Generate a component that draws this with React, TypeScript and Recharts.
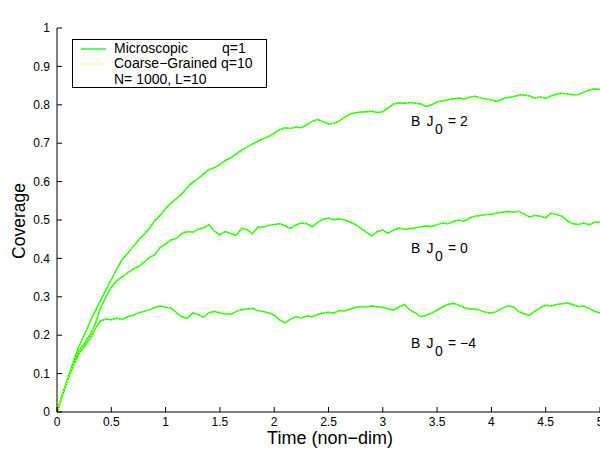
import { LineChart, Line, XAxis, YAxis, Legend, ReferenceDot } from "recharts";

// time grid (non-dim)
const times = [
  0, 0.05, 0.1, 0.15, 0.2, 0.25, 0.3, 0.35, 0.4, 0.45,
  0.5, 0.55, 0.6, 0.65, 0.7, 0.75, 0.8, 0.85, 0.9, 0.95,
  1, 1.05, 1.1, 1.15, 1.2, 1.25, 1.3, 1.35, 1.4, 1.45,
  1.5, 1.55, 1.6, 1.65, 1.7, 1.75, 1.8, 1.85, 1.9, 1.95,
  2, 2.05, 2.1, 2.15, 2.2, 2.25, 2.3, 2.35, 2.4, 2.45,
  2.5, 2.55, 2.6, 2.65, 2.7, 2.75, 2.8, 2.85, 2.9, 2.95,
  3, 3.05, 3.1, 3.15, 3.2, 3.25, 3.3, 3.35, 3.4, 3.45,
  3.5, 3.55, 3.6, 3.65, 3.7, 3.75, 3.8, 3.85, 3.9, 3.95,
  4, 4.05, 4.1, 4.15, 4.2, 4.25, 4.3, 4.35, 4.4, 4.45,
  4.5, 4.55, 4.6, 4.65, 4.7, 4.75, 4.8, 4.85, 4.9, 4.95, 5,
];

// B J0 = 2
const micro2 = [
  0, 0.045, 0.088, 0.13, 0.17, 0.2, 0.232, 0.262, 0.29, 0.318,
  0.345, 0.372, 0.398, 0.413, 0.43, 0.447, 0.462, 0.478, 0.498, 0.512,
  0.53, 0.544, 0.556, 0.568, 0.585, 0.598, 0.608, 0.62, 0.632, 0.636,
  0.645, 0.655, 0.662, 0.672, 0.682, 0.69, 0.698, 0.705, 0.712, 0.718,
  0.726, 0.735, 0.74, 0.738, 0.742, 0.74, 0.748, 0.757, 0.762, 0.756,
  0.75, 0.752, 0.758, 0.768, 0.776, 0.779, 0.781, 0.782, 0.783, 0.78,
  0.782, 0.792, 0.802, 0.805, 0.804, 0.806, 0.804, 0.802, 0.796, 0.8,
  0.808, 0.81, 0.813, 0.816, 0.818, 0.815, 0.82, 0.822, 0.818, 0.815,
  0.813, 0.808, 0.815, 0.819, 0.821, 0.825, 0.826, 0.823, 0.818, 0.82,
  0.817, 0.823, 0.828, 0.83, 0.828, 0.826, 0.827, 0.833, 0.838, 0.842, 0.84,
];
const coarse2 = [
  0, 0.046, 0.087, 0.131, 0.169, 0.201, 0.233, 0.261, 0.291, 0.317,
  0.346, 0.371, 0.399, 0.412, 0.431, 0.446, 0.463, 0.477, 0.499, 0.511,
  0.531, 0.543, 0.557, 0.567, 0.586, 0.597, 0.609, 0.619, 0.633, 0.635,
  0.646, 0.654, 0.663, 0.671, 0.683, 0.689, 0.699, 0.704, 0.713, 0.717,
  0.727, 0.734, 0.741, 0.737, 0.743, 0.739, 0.749, 0.756, 0.763, 0.755,
  0.751, 0.751, 0.759, 0.767, 0.777, 0.778, 0.782, 0.781, 0.784, 0.779,
  0.783, 0.791, 0.803, 0.804, 0.805, 0.805, 0.805, 0.801, 0.797, 0.799,
  0.809, 0.809, 0.814, 0.815, 0.819, 0.814, 0.821, 0.821, 0.819, 0.814,
  0.814, 0.807, 0.816, 0.818, 0.822, 0.824, 0.827, 0.822, 0.819, 0.819,
  0.818, 0.822, 0.829, 0.829, 0.829, 0.825, 0.828, 0.832, 0.839, 0.841, 0.841,
];

// B J0 = 0
const micro0 = [
  0, 0.045, 0.087, 0.125, 0.16, 0.178, 0.2, 0.228, 0.27, 0.3,
  0.325, 0.342, 0.352, 0.362, 0.372, 0.378, 0.39, 0.402, 0.41, 0.428,
  0.438, 0.448, 0.452, 0.465, 0.47, 0.468, 0.476, 0.48, 0.488, 0.47,
  0.462, 0.47, 0.465, 0.46, 0.478, 0.475, 0.464, 0.482, 0.482, 0.486,
  0.488, 0.49, 0.485, 0.478, 0.487, 0.492, 0.49, 0.482, 0.494, 0.502,
  0.505, 0.501, 0.503, 0.5, 0.494, 0.488, 0.478, 0.468, 0.458, 0.47,
  0.474, 0.465, 0.474, 0.479, 0.475, 0.478, 0.48, 0.482, 0.485, 0.483,
  0.488, 0.492, 0.49, 0.496, 0.5, 0.497, 0.506, 0.51, 0.512, 0.514,
  0.515, 0.518, 0.52, 0.522, 0.52, 0.523, 0.516, 0.508, 0.512, 0.51,
  0.506, 0.518, 0.514, 0.51, 0.498, 0.49, 0.488, 0.492, 0.488, 0.494, 0.495,
];
const coarse0 = [
  0, 0.044, 0.088, 0.124, 0.161, 0.177, 0.201, 0.227, 0.271, 0.299,
  0.326, 0.341, 0.353, 0.361, 0.373, 0.377, 0.391, 0.401, 0.411, 0.427,
  0.439, 0.447, 0.453, 0.464, 0.471, 0.467, 0.477, 0.479, 0.489, 0.469,
  0.463, 0.469, 0.466, 0.459, 0.479, 0.474, 0.465, 0.481, 0.483, 0.485,
  0.489, 0.489, 0.486, 0.477, 0.488, 0.491, 0.491, 0.481, 0.495, 0.501,
  0.506, 0.5, 0.504, 0.499, 0.495, 0.487, 0.479, 0.467, 0.459, 0.469,
  0.475, 0.464, 0.475, 0.478, 0.476, 0.477, 0.481, 0.481, 0.486, 0.482,
  0.489, 0.491, 0.491, 0.495, 0.501, 0.496, 0.507, 0.509, 0.513, 0.513,
  0.516, 0.517, 0.521, 0.521, 0.521, 0.522, 0.517, 0.507, 0.513, 0.509,
  0.507, 0.517, 0.515, 0.509, 0.499, 0.489, 0.489, 0.491, 0.489, 0.493, 0.496,
];

// B J0 = -4
const microM4 = [
  0, 0.044, 0.085, 0.12, 0.152, 0.17, 0.19, 0.215, 0.237, 0.242,
  0.24, 0.244, 0.241, 0.248, 0.252, 0.258, 0.262, 0.266, 0.272, 0.276,
  0.273, 0.271, 0.258, 0.248, 0.244, 0.258, 0.254, 0.247, 0.258, 0.262,
  0.258, 0.256, 0.254, 0.262, 0.266, 0.268, 0.27, 0.264, 0.262, 0.258,
  0.252, 0.24, 0.232, 0.242, 0.248, 0.245, 0.25, 0.248, 0.254, 0.258,
  0.26, 0.258, 0.264, 0.263, 0.268, 0.272, 0.275, 0.274, 0.276, 0.274,
  0.272, 0.268, 0.266, 0.274, 0.28, 0.265, 0.258, 0.248, 0.252, 0.258,
  0.265, 0.274, 0.28, 0.283, 0.278, 0.272, 0.268, 0.268, 0.264, 0.26,
  0.257, 0.262, 0.27, 0.276, 0.274, 0.262, 0.256, 0.252, 0.262, 0.272,
  0.278, 0.276, 0.28, 0.282, 0.284, 0.28, 0.274, 0.276, 0.27, 0.262, 0.258,
];
const coarseM4 = [
  0, 0.045, 0.084, 0.121, 0.151, 0.171, 0.189, 0.216, 0.236, 0.243,
  0.239, 0.245, 0.24, 0.249, 0.251, 0.259, 0.261, 0.267, 0.271, 0.277,
  0.272, 0.272, 0.257, 0.249, 0.243, 0.259, 0.253, 0.248, 0.257, 0.263,
  0.257, 0.257, 0.253, 0.263, 0.265, 0.269, 0.269, 0.265, 0.261, 0.259,
  0.251, 0.241, 0.231, 0.243, 0.247, 0.246, 0.249, 0.249, 0.253, 0.259,
  0.259, 0.259, 0.263, 0.264, 0.267, 0.273, 0.274, 0.275, 0.275, 0.275,
  0.271, 0.269, 0.265, 0.275, 0.279, 0.266, 0.257, 0.249, 0.251, 0.259,
  0.264, 0.275, 0.279, 0.284, 0.277, 0.273, 0.267, 0.269, 0.263, 0.261,
  0.256, 0.263, 0.269, 0.277, 0.273, 0.263, 0.255, 0.253, 0.261, 0.273,
  0.277, 0.277, 0.279, 0.283, 0.283, 0.281, 0.273, 0.277, 0.269, 0.263, 0.257,
];

const xTicks = [0, 0.5, 1, 1.5, 2, 2.5, 3, 3.5, 4, 4.5, 5];
const yTicks = [0, 0.1, 0.2, 0.3, 0.4, 0.5, 0.6, 0.7, 0.8, 0.9, 1];

const rows = times.map((t, i) => ({
  t,
  m2: micro2[i],
  c2: coarse2[i],
  m0: micro0[i],
  c0: coarse0[i],
  m4: microM4[i],
  c4: coarseM4[i],
}));

const FONT = "'Liberation Sans', Arial, sans-serif";
const GREEN = "#00ff00";
const YELLOW = "#ffff00";

function BoxLegend() {
  return (
    <svg width={196} height={50} style={{ display: "block" }}>
      <rect x={0.5} y={0.5} width={194} height={48} fill="#fff" stroke="#000" />
      <line x1={9} y1={10} x2={34} y2={10} stroke={GREEN} strokeWidth={1.3} />
      <line x1={9} y1={25} x2={34} y2={25} stroke={YELLOW} strokeWidth={1} strokeDasharray="1 2" />
      <g fontFamily={FONT} fontSize={14} fill="#000">
        <text x={42} y={14}>Microscopic</text>
        <text x={150} y={14}>q=1</text>
        <text x={42} y={29}>Coarse−Grained q=10</text>
        <text x={42} y={44.5}>N= 1000, L=10</text>
      </g>
    </svg>
  );
}

function bjLabel(val: string) {
  return (p: any) => (
    <text x={p.cx} y={p.cy} fontFamily={FONT} fontSize={14} fill="#000">
      <tspan x={p.cx}>B</tspan>
      <tspan x={p.cx + 15.5}>J</tspan>
      <tspan x={p.cx + 24} dy={8}>0</tspan>
      <tspan x={p.cx + 37} dy={-8}>{"= " + val}</tspan>
    </text>
  );
}

export default function App() {
  return (
    <div style={{ position: "absolute", left: 0, top: 0, background: "#fff" }}>
      <LineChart
        width={600}
        height={453}
        data={rows}
        margin={{ top: 28, right: 0, bottom: 0, left: 0 }}
      >
        <XAxis
          dataKey="t"
          type="number"
          domain={[0, 5]}
          ticks={xTicks}
          interval={0}
          height={41}
          tickSize={-5}
          tickMargin={10}
          stroke="#000"
          tick={{ fill: "#000", fontSize: 12, fontFamily: FONT }}
          label={{
            content: () => (
              <text x={330} y={444} textAnchor="middle" fontFamily={FONT} fontSize={18} fill="#000">
                Time (non−dim)
              </text>
            ),
          }}
        />
        <XAxis
          xAxisId="top"
          orientation="top"
          dataKey="t"
          type="number"
          domain={[0, 5]}
          ticks={xTicks}
          interval={0}
          height={0}
          tickSize={-5}
          stroke="#000"
          tickFormatter={() => ""}
          label={{
            content: () => (
              <text x={329} y={17.5} textAnchor="middle" fontFamily={FONT} fontSize={19} fill="#000">
                Coverage in Time
              </text>
            ),
          }}
        />
        <YAxis
          type="number"
          domain={[0, 1]}
          ticks={yTicks}
          interval={0}
          width={57}
          tickSize={-5}
          tickMargin={12}
          stroke="#000"
          tick={{ fill: "#000", fontSize: 12, fontFamily: FONT }}
          label={{
            content: () => (
              <text
                transform="translate(25,221) rotate(-90)"
                textAnchor="middle"
                fontFamily={FONT}
                fontSize={17.5}
                fill="#000"
              >
                Coverage
              </text>
            ),
          }}
        />
        <YAxis
          yAxisId="right"
          orientation="right"
          type="number"
          domain={[0, 1]}
          ticks={yTicks}
          interval={0}
          width={0}
          tickSize={-5}
          stroke="#000"
          tickFormatter={() => ""}
        />
        <Legend
          layout="horizontal"
          verticalAlign="middle"
          align="center"
          wrapperStyle={{ left: 72, top: 39, width: 196, height: 50 }}
          content={() => <BoxLegend />}
        />
        <Line dataKey="m2" stroke={GREEN} strokeWidth={1.5} dot={false} isAnimationActive={false} />
        <Line dataKey="m0" stroke={GREEN} strokeWidth={1.5} dot={false} isAnimationActive={false} />
        <Line dataKey="m4" stroke={GREEN} strokeWidth={1.5} dot={false} isAnimationActive={false} />
        <Line dataKey="c2" stroke={YELLOW} strokeWidth={1} strokeDasharray="1 2" dot={false} isAnimationActive={false} />
        <Line dataKey="c0" stroke={YELLOW} strokeWidth={1} strokeDasharray="1 2" dot={false} isAnimationActive={false} />
        <Line dataKey="c4" stroke={YELLOW} strokeWidth={1} strokeDasharray="1 2" dot={false} isAnimationActive={false} />
        <ReferenceDot x={3.26} y={0.746} r={0} shape={bjLabel("2")} />
        <ReferenceDot x={3.26} y={0.413} r={0} shape={bjLabel("0")} />
        <ReferenceDot x={3.26} y={0.166} r={0} shape={bjLabel("−4")} />
      </LineChart>
    </div>
  );
}
